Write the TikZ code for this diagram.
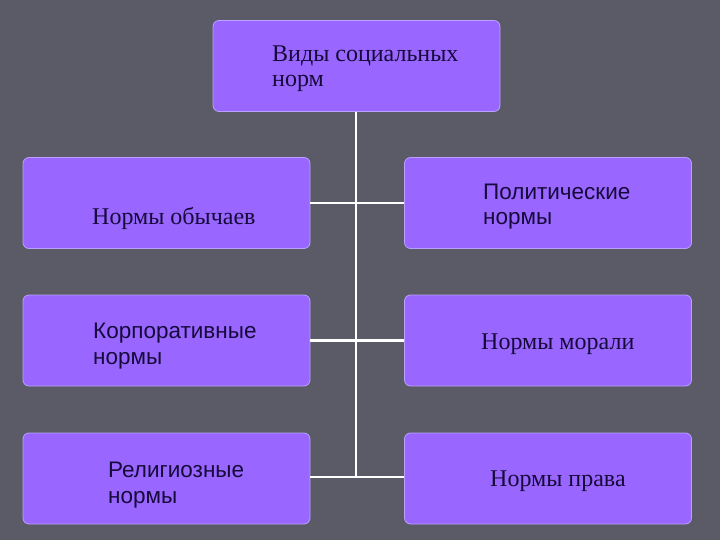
\documentclass[tikz,border=0pt]{standalone}
\usepackage{fontspec}
\setmainfont{Liberation Serif}
\newfontfamily\sansf{Liberation Sans}
\definecolor{bg}{HTML}{5A5B66}
\definecolor{boxfill}{HTML}{9966FF}
\definecolor{boxline}{HTML}{B9A2FF}
\definecolor{txt}{HTML}{150A3A}
\begin{document}
\begin{tikzpicture}[x=1pt,y=-1pt,
  normbox/.style={draw=boxline, line width=0.8pt, fill=boxfill, rounded corners=6pt,
    minimum width=287pt, minimum height=91pt, inner sep=0pt},
  lbl/.style={text=txt, anchor=base west, align=left, inner sep=0pt, font=\sansf\fontsize{22.5}{25.5}\selectfont},
  lblserif/.style={text=txt, anchor=base west, align=left, inner sep=0pt, font=\rmfamily\fontsize{24}{25.5}\selectfont},
  conn/.style={draw=white, line width=2.5pt}]
\fill[bg] (0,0) rectangle (720,540);
\useasboundingbox (0,0) rectangle (720,540);
% boxes
\node[normbox] (top) at (356.5,66) {};
\node[normbox] (l1) at (166.5,203) {};
\node[normbox] (r1) at (548,203) {};
\node[normbox] (l2) at (166.5,340.5) {};
\node[normbox] (r2) at (548,340.5) {};
\node[normbox] (l3) at (166.5,478.5) {};
\node[normbox] (r3) at (548,478.5) {};
% connectors
\coordinate (j1) at (356,203);
\coordinate (j2) at (356,340.5);
\coordinate (j3) at (356,477);
\draw[conn] (top.south -| j1) -- (j3);
\draw[conn] (l1.east |- j1) -- (r1.west |- j1);
\draw[conn] (l2.east |- j2) -- (r2.west |- j2);
\draw[conn] (l3.east |- j3) -- (r3.west |- j3);
% labels (base anchor = baseline of the last line)
\node[lblserif] (ttop) at (272,87) {Виды социальных\\норм};
\node[lblserif] (tl1) at (92,225) {Нормы обычаев};
\node[lbl] (tr1) at (483,225) {Политические\\нормы};
\node[lbl] (tl2) at (93,364) {Корпоративные\\нормы};
\node[lblserif] (tr2) at (481,349) {Нормы морали};
\node[lbl] (tl3) at (108,503) {Религиозные\\нормы};
\node[lblserif] (tr3) at (490,486) {Нормы права};
\end{tikzpicture}
\end{document}
